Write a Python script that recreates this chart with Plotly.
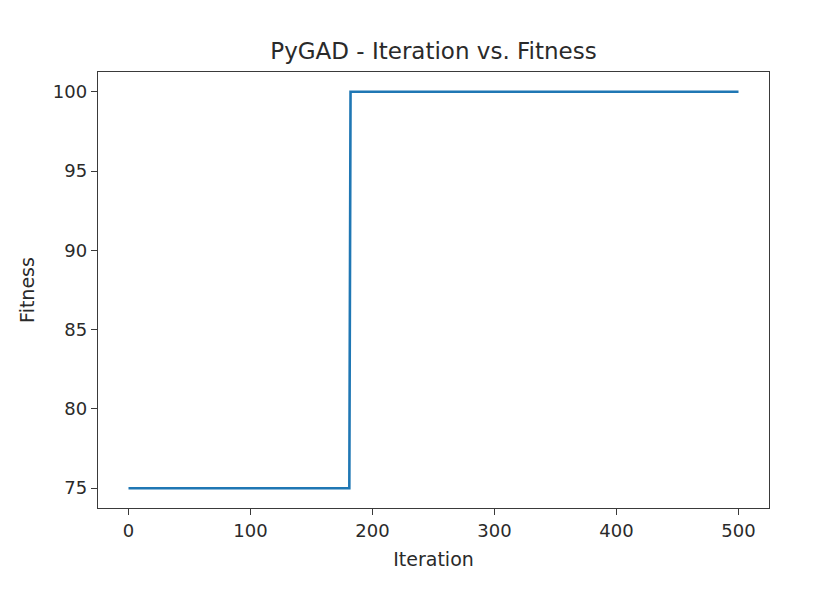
import plotly.graph_objects as go

# Best fitness per generation (0..500)
iterations = list(range(0, 501))
fitness = [75] * 182 + [100] * 319

x_ticks = [0, 100, 200, 300, 400, 500]
y_ticks = [75, 80, 85, 90, 95, 100]

FONT = "DejaVu Sans"
TXT = "#2a2a2a"

fig = go.Figure()
fig.add_trace(go.Scatter(x=iterations, y=fitness, mode="lines",
                         line=dict(color="#1f77b4", width=2.6), showlegend=False))

axis_common = dict(showgrid=False, zeroline=False, showline=True, mirror=True,
                   linecolor="#3a3a3a", linewidth=1.4, ticks="outside", ticklen=6,
                   tickwidth=1.4, tickcolor="#3a3a3a",
                   tickfont=dict(family=FONT, size=18, color=TXT))

fig.update_layout(
    width=830, height=594,
    paper_bgcolor="white", plot_bgcolor="white",
    margin=dict(l=98, r=61, t=72, b=86),
    title=dict(text="PyGAD - Iteration vs. Fitness", x=(98 + 769) / 2 / 830, xanchor="center",
               y=1 - 51 / 594, yanchor="middle",
               font=dict(family=FONT, size=23, color=TXT)),
    xaxis=dict(range=[-25, 525], tickvals=x_ticks,
               title=dict(text="Iteration", standoff=12,
                          font=dict(family=FONT, size=19, color=TXT)),
               **axis_common),
    yaxis=dict(range=[73.75, 101.25], tickvals=y_ticks,
               title=dict(text="Fitness", standoff=13,
                          font=dict(family=FONT, size=19, color=TXT)),
               **axis_common),
)

fig.write_html("out.html")
